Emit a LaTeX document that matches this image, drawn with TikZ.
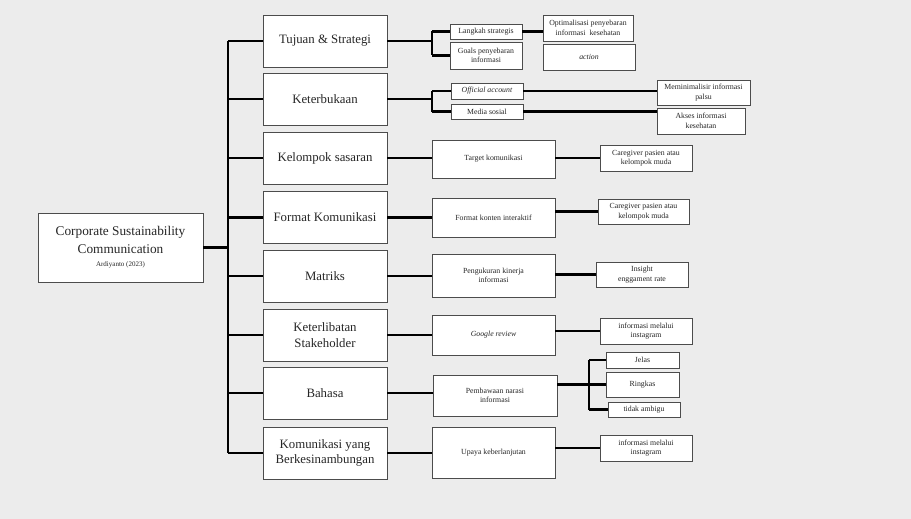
\documentclass[tikz,border=0pt]{standalone}
\usepackage{fontspec}
\setmainfont{Liberation Serif}
\usepackage{xcolor}
\usepackage{tikz}
\usetikzlibrary{positioning}
\definecolor{paper}{RGB}{236,236,236}

\begin{document}
\begin{tikzpicture}[
	x=1pt,y=-1pt,
	text=black!85
]
\tikzset{
    rootnode/.style = {rectangle, draw=black!70, line width=0.8pt, fill=white, align=center, inner sep=2pt,
      font=\fontsize{13.3}{18}\selectfont},
    catnode/.style = {rectangle, draw=black!70, line width=0.8pt, fill=white, align=center,
      minimum width=124, minimum height=52, inner sep=2pt, font=\fontsize{12.8}{15.5}\selectfont},
    leafnode/.style = {rectangle, draw=black!70, line width=0.8pt, fill=white, align=center,
      inner sep=1pt, font=\fontsize{7.8}{9.5}\selectfont},
    link/.style = {draw=black, line width=2.2pt}
}
\fill[paper] (0,0) rectangle (911,519);
\useasboundingbox (0,0) rectangle (911,519);

% root
\node[rootnode, minimum width=165, minimum height=69] (root) at (120.5,247.5)
  {Corporate Sustainability\\Communication\\[-5pt]{\fontsize{7}{8}\selectfont Ardiyanto (2023)}};
\coordinate (trunk) at (228,247.5);

% categories
\node[catnode] (cat1) at (325,41) {Tujuan \& Strategi};
\node[catnode] (cat2) at (325,99) {Keterbukaan};
\node[catnode] (cat3) at (325,158) {Kelompok sasaran};
\node[catnode] (cat4) at (325,217.5) {Format Komunikasi};
\node[catnode] (cat5) at (325,276) {Matriks};
\node[catnode] (cat6) at (325,335) {Keterlibatan\\Stakeholder};
\node[catnode] (cat7) at (325,393) {Bahasa};
\node[catnode] (cat8) at (325,453) {Komunikasi yang\\Berkesinambungan};

% row 1
\node[leafnode, minimum width=72, minimum height=15] (langkah) at (486,31.5) {Langkah strategis};
\node[leafnode, minimum width=72, minimum height=27] (goals) at (486,55.5) {Goals penyebaran\\informasi};
\node[leafnode, minimum width=90, minimum height=26] (optim) at (588,28) {Optimalisasi penyebaran\\informasi\ \ kesehatan};
\node[leafnode, minimum width=92, minimum height=26] (action) at (589,57) {\textit{action}};
\coordinate (fork1) at (432,41);

% row 2
\node[leafnode, minimum width=72, minimum height=16] (official) at (487,91) {\textit{Official account}};
\node[leafnode, minimum width=72, minimum height=15] (medsos) at (487,111.5) {Media sosial};
\node[leafnode, minimum width=93, minimum height=25] (minim) at (703.5,92.5) {Meminimalisir informasi\\palsu};
\node[leafnode, minimum width=88, minimum height=26] (akses) at (701,121) {Akses informasi\\kesehatan};
\coordinate (fork2) at (432,99);

% rows 3 to 6, 8
\node[leafnode, minimum width=123, minimum height=38] (target) at (493.5,159) {Target komunikasi};
\node[leafnode, minimum width=92, minimum height=26] (care1) at (646,158) {Caregiver pasien atau\\kelompok muda};
\node[leafnode, minimum width=123, minimum height=39] (konten) at (493.5,217.5) {Format konten interaktif};
\node[leafnode, minimum width=91, minimum height=25] (care2) at (643.5,211.5) {Caregiver pasien atau\\kelompok muda};
\node[leafnode, minimum width=123, minimum height=43] (kinerja) at (493.5,275.5) {Pengukuran kinerja\\informasi};
\node[leafnode, minimum width=92, minimum height=25] (insight) at (642,274.5) {Insight\\enggament rate};
\node[leafnode, minimum width=123, minimum height=40] (google) at (493.5,335) {\textit{Google review}};
\node[leafnode, minimum width=92, minimum height=26] (insta1) at (646,331) {informasi melalui\\instagram};
\node[leafnode, minimum width=123, minimum height=51] (upaya) at (493.5,452.5) {Upaya keberlanjutan};
\node[leafnode, minimum width=92, minimum height=26] (insta2) at (646,448) {informasi melalui\\instagram};

% row 7
\node[leafnode, minimum width=124, minimum height=41] (narasi) at (495,395.5) {Pembawaan narasi\\informasi};
\node[leafnode, minimum width=73, minimum height=16] (jelas) at (642.5,360) {Jelas};
\node[leafnode, minimum width=73, minimum height=25] (ringkas) at (642.5,384.5) {Ringkas};
\node[leafnode, minimum width=72, minimum height=15] (ambigu) at (644,409.5) {tidak ambigu};
\coordinate (fork7) at (589,384.5);

% connectors
\draw[link] (root.east |- trunk) -- (trunk);
\draw[link] (trunk |- cat1.west) -- (trunk |- cat8.west);
\foreach \i in {1,...,8}
  \draw[link] (trunk |- cat\i.west) -- (cat\i.west);

\draw[link] (cat1.east) -- (fork1);
\draw[link] (fork1 |- langkah.west) -- (fork1 |- goals.west);
\draw[link] (fork1 |- langkah.west) -- (langkah.west);
\draw[link] (fork1 |- goals.west) -- (goals.west);
\draw[link] (langkah.east) -- (langkah.east -| optim.west);

\draw[link] (cat2.east) -- (fork2);
\draw[link] (fork2 |- official.west) -- (fork2 |- medsos.west);
\draw[link] (fork2 |- official.west) -- (official.west);
\draw[link] (fork2 |- medsos.west) -- (medsos.west);
\draw[link] (official.east) -- (official.east -| minim.west);
\draw[link] (medsos.east) -- (medsos.east -| akses.west);

\draw[link] (cat3.east) -- (cat3.east -| target.west);
\draw[link] (care1.west -| target.east) -- (care1.west);
\draw[link] (cat4.east) -- (cat4.east -| konten.west);
\draw[link] (care2.west -| konten.east) -- (care2.west);
\draw[link] (cat5.east) -- (cat5.east -| kinerja.west);
\draw[link] (insight.west -| kinerja.east) -- (insight.west);
\draw[link] (cat6.east) -- (cat6.east -| google.west);
\draw[link] (insta1.west -| google.east) -- (insta1.west);
\draw[link] (cat7.east) -- (cat7.east -| narasi.west);
\draw[link] (fork7 -| narasi.east) -- (fork7);
\draw[link] (fork7 |- jelas.west) -- (fork7 |- ambigu.west);
\draw[link] (fork7 |- jelas.west) -- (jelas.west);
\draw[link] (fork7) -- (ringkas.west);
\draw[link] (fork7 |- ambigu.west) -- (ambigu.west);
\draw[link] (cat8.east) -- (cat8.east -| upaya.west);
\draw[link] (insta2.west -| upaya.east) -- (insta2.west);
\end{tikzpicture}
\end{document}
